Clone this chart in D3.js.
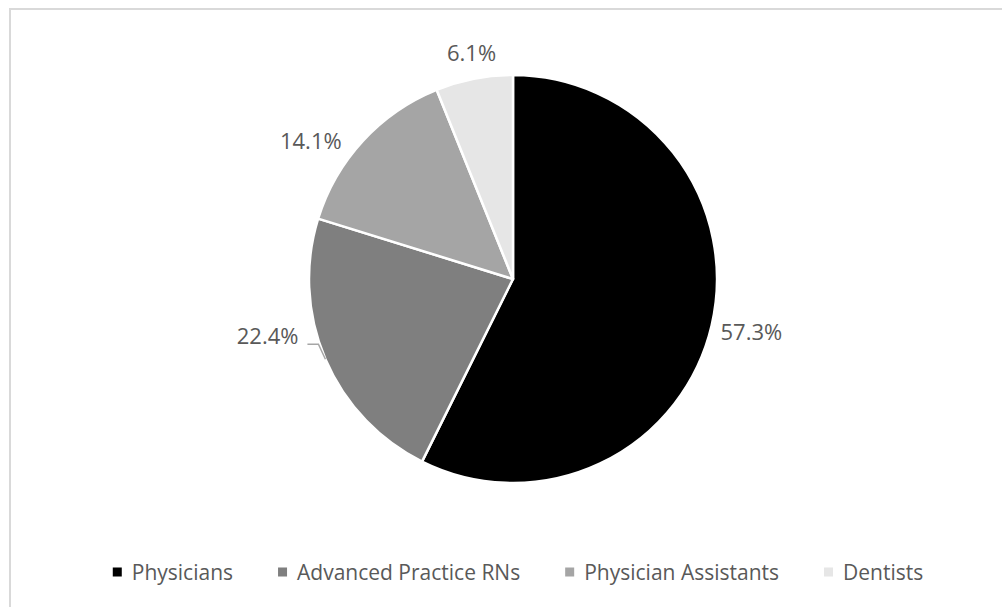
<!DOCTYPE html>
<html>
<head>
<meta charset="utf-8">
<script src="https://cdn.jsdelivr.net/npm/d3@7"></script>
<style>
  html, body { margin: 0; padding: 0; background: #fff; }
  svg { display: block; }
  text { font-family: "Open Sans", "Noto Sans", sans-serif; fill: #595959; }
</style>
</head>
<body>
<svg id="chart" width="1002" height="607"></svg>
<script>
// Share of clinicians by profession
const categories = ["Physicians", "Advanced Practice RNs", "Physician Assistants", "Dentists"];
const shares = [57.3, 22.4, 14.1, 6.1];
const valueLabels = ["57.3%", "22.4%", "14.1%", "6.1%"];
const sliceColors = ["#000000", "#7f7f7f", "#a5a5a5", "#e6e6e6"];

const W = 1002, H = 607;
const svg = d3.select("#chart");

// chart frame
svg.append("rect")
  .attr("x", 10).attr("y", 9)
  .attr("width", W + 10).attr("height", H + 10)
  .attr("fill", "none").attr("stroke", "#d9d9d9").attr("stroke-width", 2);

const cx = 513, cy = 279, R = 204;
const data = categories.map((c, i) => ({ name: c, value: shares[i], label: valueLabels[i], color: sliceColors[i] }));

const pie = d3.pie().value(d => d.value).sort(null);
const arcs = pie(data);
const arc = d3.arc().innerRadius(0).outerRadius(R);

const g = svg.append("g").attr("transform", `translate(${cx},${cy})`);

g.selectAll("path.slice")
  .data(arcs)
  .join("path")
  .attr("class", "slice")
  .attr("d", arc)
  .attr("fill", d => d.data.color)
  .attr("stroke", "#fff")
  .attr("stroke-width", 2.5)
  .attr("stroke-linejoin", "round");

// value labels sit just outside the rim, pushed out by half their box
const labelSize = 22;
const labelGap = 10;
const labelNudge = [[0, 0], [0, 0], [-22, 16], [4, -2]];
arcs.forEach((a, i) => {
  const mid = (a.startAngle + a.endAngle) / 2;
  const s = Math.sin(mid), c = -Math.cos(mid);
  const t = g.append("text")
    .attr("text-anchor", "middle")
    .attr("dominant-baseline", "central")
    .attr("font-size", labelSize)
    .text(a.data.label);
  const bb = t.node().getBBox();
  if (i === 1) {
    // lifted label tied back to its slice with a leader line
    const edge = [s * R, c * R];
    const elbow = [edge[0] - 7, edge[1] - 15];
    const end = [elbow[0] - 11, elbow[1]];
    g.append("polyline")
      .attr("points", [edge, elbow, end].map(p => p.join(",")).join(" "))
      .attr("fill", "none").attr("stroke", "#a6a6a6").attr("stroke-width", 1.5);
    t.attr("text-anchor", "end").attr("x", end[0] - 9).attr("y", end[1] - 9);
    return;
  }
  const px = s * (R + labelGap) + s * bb.width / 2 + labelNudge[i][0];
  const py = c * (R + labelGap) + c * bb.height / 2 + labelNudge[i][1];
  t.attr("x", px).attr("y", py);
});

// legend
const legendSize = 21;
const legend = svg.append("g");
const items = legend.selectAll("g.item").data(data).join("g").attr("class", "item");
items.append("rect").attr("width", 9).attr("height", 9).attr("y", -4.5).attr("fill", d => d.color);
items.append("text")
  .attr("x", 19).attr("y", 0)
  .attr("dominant-baseline", "central")
  .attr("font-size", legendSize)
  .text(d => d.name);
let x = 0;
const gap = 45;
items.each(function () {
  const w = this.getBBox().width;
  d3.select(this).attr("transform", `translate(${x},0)`);
  x += w + gap;
});
const total = x - gap;
legend.attr("transform", `translate(${518 - total / 2},572)`);
</script>
</body>
</html>
